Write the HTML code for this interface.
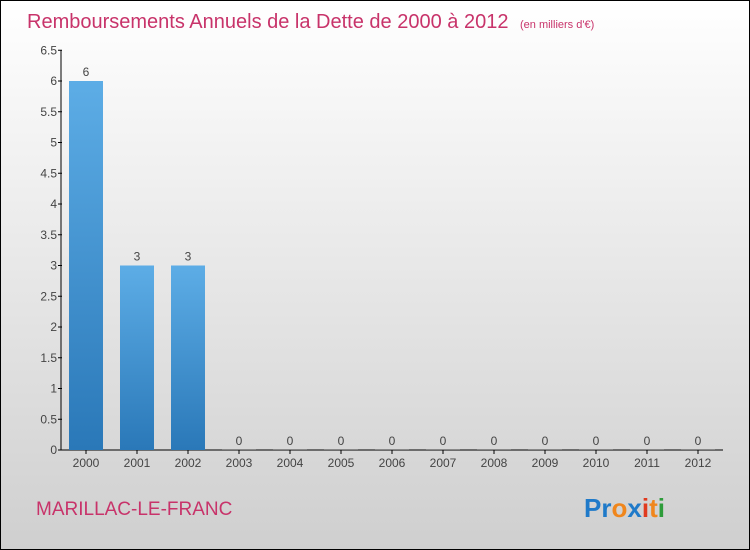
<!DOCTYPE html>
<html><head><meta charset="utf-8"><style>
body{margin:0}
#c{width:748px;height:548px;border:1px solid #000;background:linear-gradient(#fff,#cfcfcf);position:relative;font-family:"Liberation Sans",sans-serif;overflow:hidden}
</style></head><body>
<div id="c">
<svg width="748" height="548" xmlns="http://www.w3.org/2000/svg" id="svg">
<defs><linearGradient id="bg" x1="0" y1="0" x2="0" y2="1"><stop offset="0" stop-color="#5dade6"/><stop offset="1" stop-color="#2a78b8"/></linearGradient></defs>
<text x="26" y="27" font-size="20" fill="#c8336a">Remboursements Annuels de la Dette de 2000 à 2012 <tspan font-size="11" dx="6">(en milliers d'€)</tspan></text>
<g id="axes"></g><g id="bars"></g>
<text x="35" y="514" font-size="19" fill="#c8336a">MARILLAC-LE-FRANC</text>
<text x="583" y="516" font-size="26" font-weight="bold"><tspan fill="#1f7ac9">Pr</tspan><tspan fill="#f0861c">o</tspan><tspan fill="#1f7ac9">x</tspan><tspan fill="#e03a1e">i</tspan><tspan fill="#f0861c">t</tspan><tspan fill="#2e9c3a">i</tspan></text>
</svg>
<script>
const years=["2000","2001","2002","2003","2004","2005","2006","2007","2008","2009","2010","2011","2012"];
const values=[6,3,3,0,0,0,0,0,0,0,0,0,0];
const ticks=[0,0.5,1,1.5,2,2.5,3,3.5,4,4.5,5,5.5,6,6.5];
const NS="http://www.w3.org/2000/svg";
const y=v=>449-v*(369/6);
const x=i=>85+51*i;
const ax=document.getElementById('axes'),bg=document.getElementById('bars');
function mk(t,a,p){const e=document.createElementNS(NS,t);for(const k in a)e.setAttribute(k,a[k]);p.appendChild(e);return e;}
let l=mk('line',{x1:60,y1:y(6.5),x2:60,y2:449,stroke:'#000'},ax);


l=mk('line',{x1:60,y1:449,x2:722,y2:449,stroke:'#000'},ax);


ticks.forEach(t=>{mk('line',{x1:57,x2:61,y1:y(t),y2:y(t),stroke:'#000'},ax);
const tx=mk('text',{x:56,y:y(t)+4,'text-anchor':'end','font-size':12,fill:'#444'},ax);tx.textContent=t;

});
years.forEach((yr,i)=>{const v=values[i];
const h=Math.max(449-y(v),1);
const r=mk('rect',{x:x(i)-17,y:449-h,width:34,height:h,fill:v>0?'url(#bg)':'#888'},bg);


const vl=mk('text',{x:x(i),y:y(v)-5,'text-anchor':'middle','font-size':12,fill:'#444'},bg);vl.textContent=v;


mk('line',{x1:x(i),x2:x(i),y1:449,y2:453,stroke:'#000'},ax);
const xl=mk('text',{x:x(i),y:466,'text-anchor':'middle','font-size':12,fill:'#444'},ax);xl.textContent=yr;

});
</script>
</div>
</body></html>
